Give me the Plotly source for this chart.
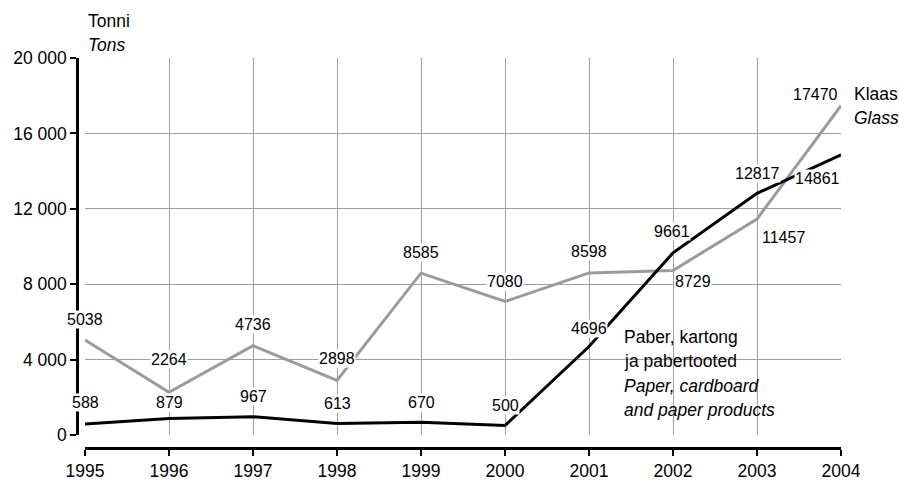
import plotly.graph_objects as go

years = [1995, 1996, 1997, 1998, 1999, 2000, 2001, 2002, 2003, 2004]
glass = [5038, 2264, 4736, 2898, 8585, 7080, 8598, 8729, 11457, 17470]
paper = [588, 879, 967, 613, 670, 500, 4696, 9661, 12817, 14861]
ytick_vals = [0, 4000, 8000, 12000, 16000, 20000]
ytick_text = ["0", "4 000", "8 000", "12 000", "16 000", "20 000"]
xtick_text = [str(y) for y in years]

# label offsets (xanchor, xshift, yshift) per point
glass_lab = [("center", 0, 21), ("center", 0, 33), ("center", 0, 21), ("center", 0, 22),
             ("center", 0, 21), ("center", 0, 20), ("center", 0, 21), ("left", 1, -11),
             ("left", 4, -18), ("right", -2, 11)]
paper_lab = [("center", 0, 21), ("center", 0, 16), ("center", 0, 20), ("center", 0, 20),
             ("center", 0, 20), ("center", 0, 20), ("center", 0, 18), ("center", -1, 21),
             ("center", 0, 20), ("right", 0, -24)]

FONT = "Liberation Sans, Arial, Helvetica, sans-serif"
W, H = 899, 480
# plot frame in window pixels: left 85, right 841, top 58, paper bottom 450
ML, MR, MT, MB = 60, W - 841, 58, H - 450
PW = W - ML - MR
PH = H - MT - MB


def px(x):
    return (x - ML) / PW


def py(y):
    return (H - MB - y) / PH


fig = go.Figure()
fig.add_trace(go.Scatter(x=years, y=glass, mode="lines",
                         line=dict(color="#9b9b9b", width=3), hoverinfo="skip"))
fig.add_trace(go.Scatter(x=years, y=paper, mode="lines",
                         line=dict(color="#000000", width=3), hoverinfo="skip"))

annotations = []
for series, labs in ((glass, glass_lab), (paper, paper_lab)):
    for xv, yv, (anc, xs, ys) in zip(years, series, labs):
        annotations.append(dict(x=xv, y=yv, xref="x", yref="y", text=str(yv),
                                showarrow=False, xanchor=anc, yanchor="middle",
                                xshift=xs, yshift=ys, bgcolor="white", borderpad=0,
                                font=dict(size=16, color="black", family=FONT)))

annotations += [
    dict(x=px(86), y=py(21), xref="paper", yref="paper", text="Tonni", showarrow=False,
         xanchor="left", yanchor="middle", font=dict(size=17.5, color="black", family=FONT)),
    dict(x=px(86), y=py(45), xref="paper", yref="paper", text="<i>Tons</i>", showarrow=False,
         xanchor="left", yanchor="middle", font=dict(size=17.5, color="black", family=FONT)),
    dict(x=px(852), y=py(94), xref="paper", yref="paper", text="Klaas", showarrow=False,
         xanchor="left", yanchor="middle", font=dict(size=17.5, color="black", family=FONT)),
    dict(x=px(852), y=py(118), xref="paper", yref="paper", text="<i>Glass</i>", showarrow=False,
         xanchor="left", yanchor="middle", font=dict(size=17.5, color="black", family=FONT)),
]
for i, t in enumerate(["Paber, kartong", "ja pabertooted", "<i>Paper, cardboard</i>",
                       "<i>and paper products</i>"]):
    annotations.append(dict(x=px(622), y=py(337 + 24.3 * i), xref="paper", yref="paper",
                            text=t, showarrow=False, xanchor="left", yanchor="middle",
                            font=dict(size=17.5, color="black", family=FONT)))

shapes = [dict(type="rect", xref="paper", yref="paper", x0=px(613), x1=px(812),
               y0=py(425), y1=py(325), fillcolor="white", line=dict(width=0),
               layer="between")]

fig.update_layout(
    template="none",
    width=W, height=H, autosize=False,
    margin=dict(l=ML, r=MR, t=MT, b=MB, pad=0, autoexpand=False),
    paper_bgcolor="white", plot_bgcolor="white",
    showlegend=False,
    font=dict(family=FONT, size=17.5, color="black"),
    xaxis=dict(range=[1995, 2004], domain=[px(85), 1], anchor="free", position=py(448),
               automargin=False,
               tickvals=years, ticktext=xtick_text, showgrid=True, gridcolor="#a0a0a0",
               gridwidth=1, zeroline=False, showline=True, linecolor="black", linewidth=2.5,
               ticks="outside", ticklen=6, tickwidth=1.5, tickcolor="black",
               tickfont=dict(size=17.5, family=FONT, color="black")),
    yaxis=dict(range=[0, 20000], domain=[py(435), 1], anchor="free", position=px(77),
               automargin=False,
               tickvals=ytick_vals, ticktext=ytick_text, showgrid=True, gridcolor="#a0a0a0",
               gridwidth=1, zeroline=False, showline=True, linecolor="black", linewidth=2.5,
               ticks="outside", ticklen=6, tickwidth=1.5, tickcolor="black",
               tickfont=dict(size=17.5, family=FONT, color="black")),
    annotations=annotations,
    shapes=shapes,
)

fig.write_html(
    "out.html",
    config={"displayModeBar": False},
    post_script="document.body.style.margin='0';document.body.style.overflow='hidden';",
)
